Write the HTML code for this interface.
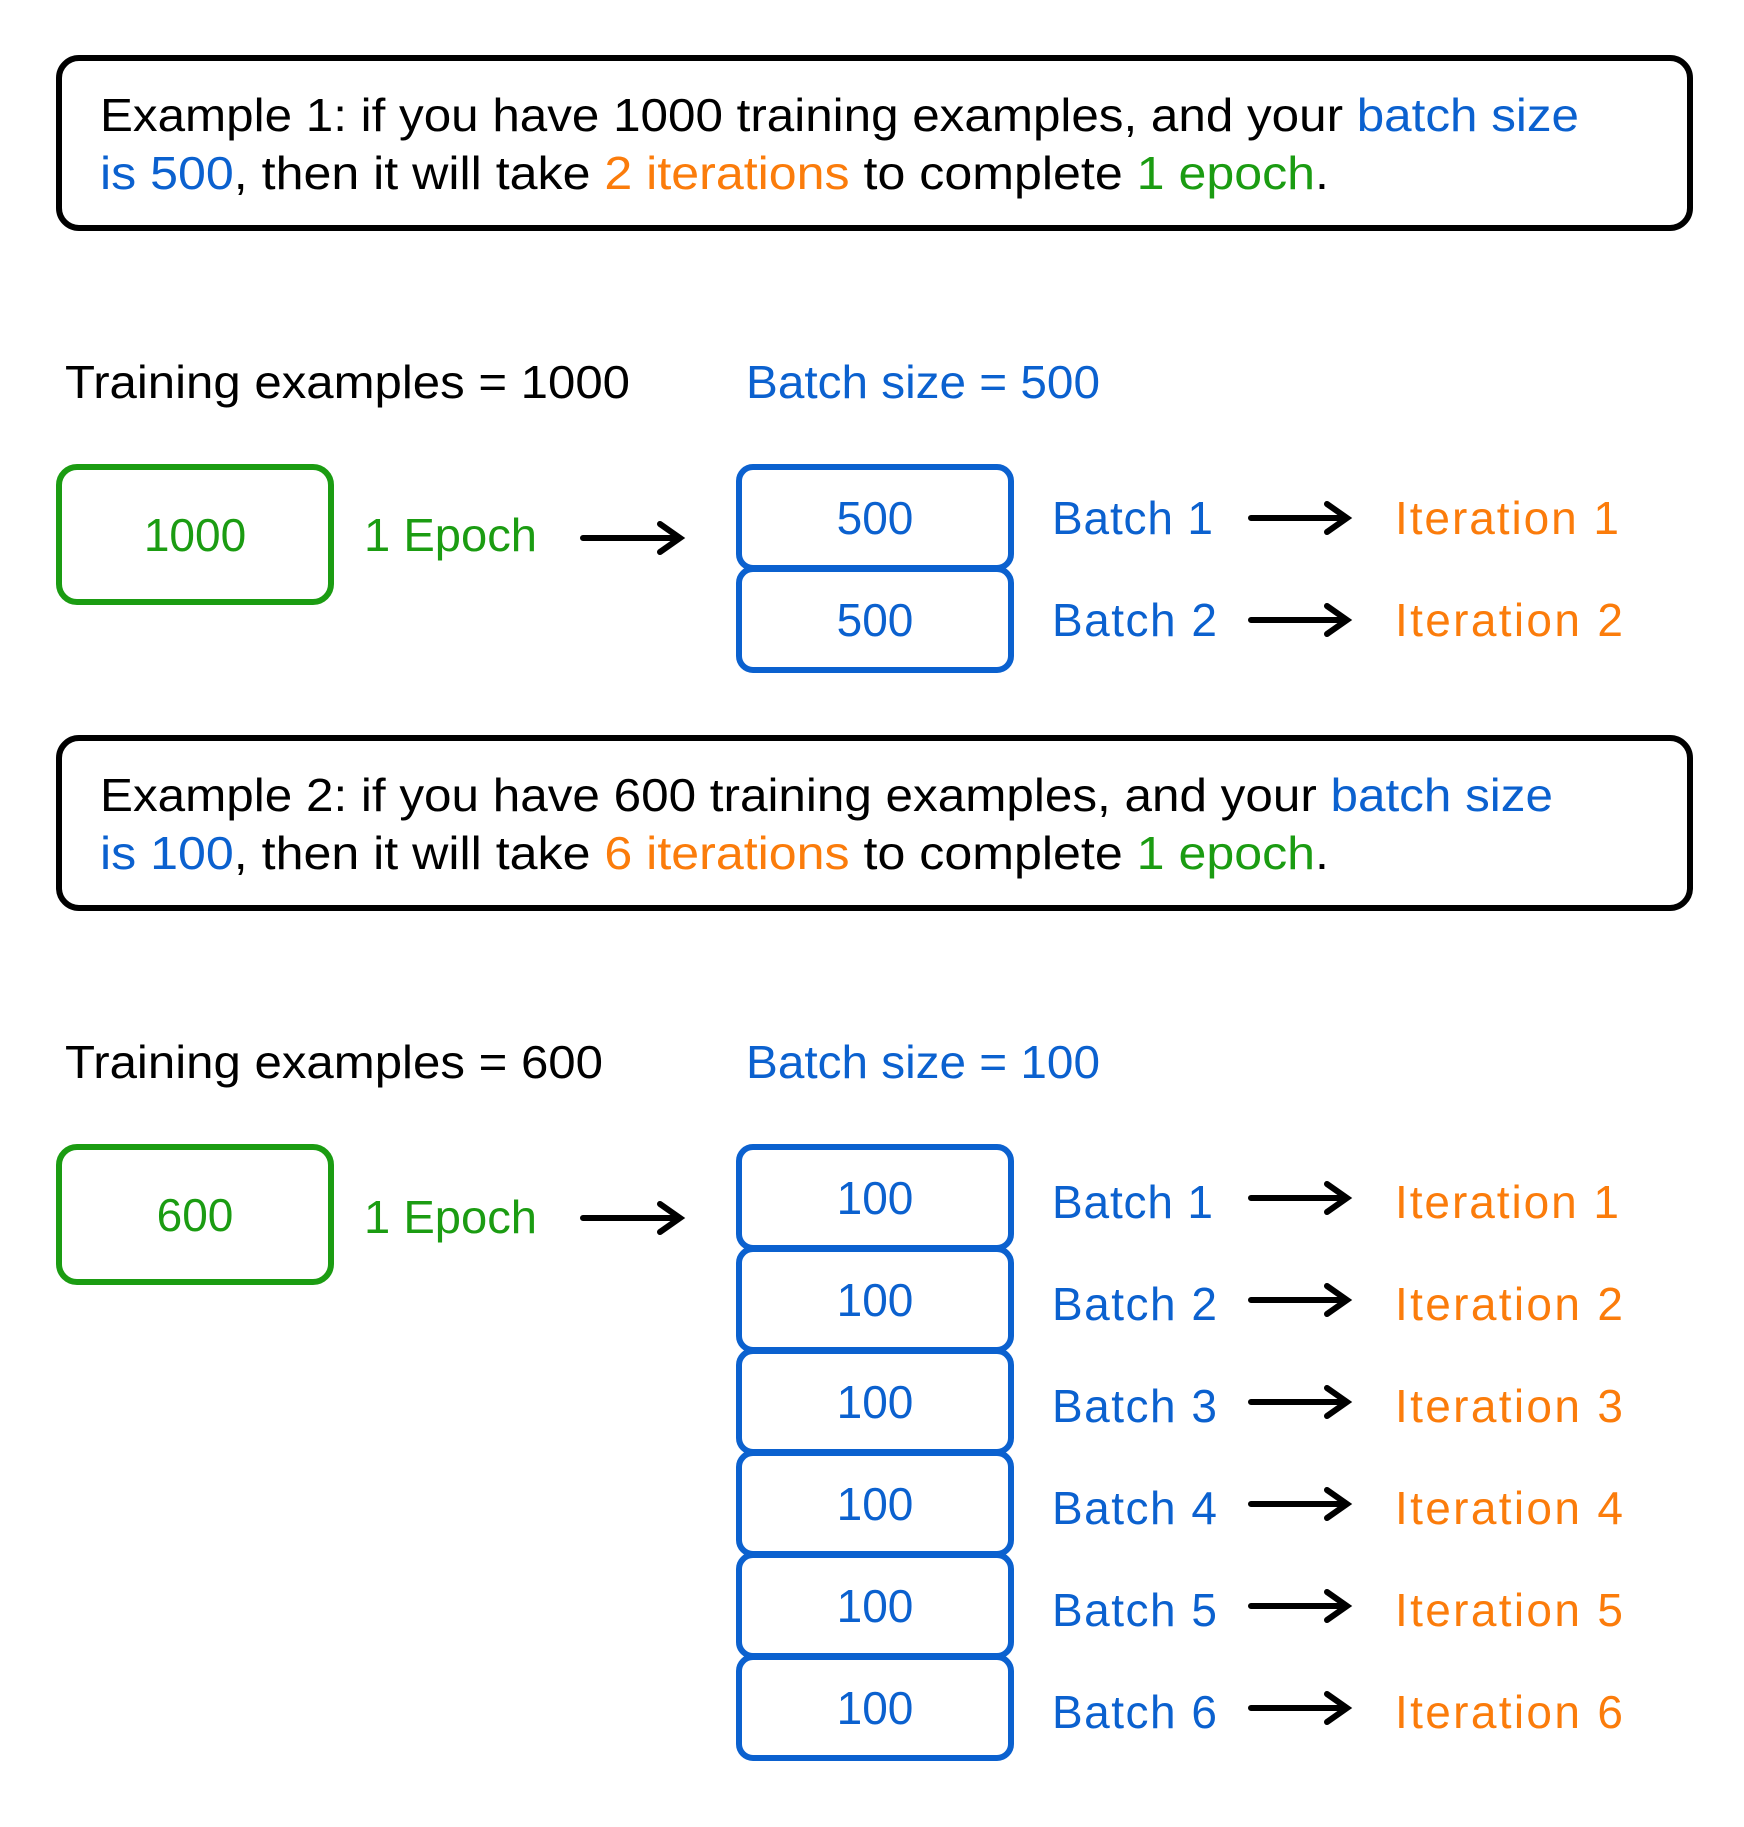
<!DOCTYPE html>
<html><head><meta charset="utf-8"><style>
body{margin:0;background:#fff}
svg text{font-family:"Liberation Sans",sans-serif;font-size:46px}
.b{fill:#0b61cf}.o{fill:#fb7c0b}.g{fill:#1b9c12}.k{fill:#000}
</style></head><body>
<svg width="1744" height="1822" viewBox="0 0 1744 1822" xmlns="http://www.w3.org/2000/svg">
<g fill="none" stroke-width="6">
<rect x="59" y="58" width="1631" height="170" rx="20" stroke="#000"/>
<rect x="59" y="738" width="1631" height="170" rx="20" stroke="#000"/>
<rect x="59" y="467" width="272" height="135" rx="18" stroke="#1b9c12"/>
<rect x="59" y="1147" width="272" height="135" rx="18" stroke="#1b9c12"/>
<rect x="739" y="467" width="272" height="101" rx="14" stroke="#0b61cf"/>
<rect x="739" y="569" width="272" height="101" rx="14" stroke="#0b61cf"/>
<rect x="739" y="1147" width="272" height="101" rx="14" stroke="#0b61cf"/>
<rect x="739" y="1249" width="272" height="101" rx="14" stroke="#0b61cf"/>
<rect x="739" y="1351" width="272" height="101" rx="14" stroke="#0b61cf"/>
<rect x="739" y="1453" width="272" height="101" rx="14" stroke="#0b61cf"/>
<rect x="739" y="1555" width="272" height="101" rx="14" stroke="#0b61cf"/>
<rect x="739" y="1657" width="272" height="101" rx="14" stroke="#0b61cf"/>
</g>
<g stroke="#000" stroke-width="6" fill="none" stroke-linecap="round">
<path d="M583 538H678M660 524L680 538L660 552"/>
<path d="M583 1218H678M660 1204L680 1218L660 1232"/>
<path d="M1251 518H1345M1327 504L1347 518L1327 532"/>
<path d="M1251 620H1345M1327 606L1347 620L1327 634"/>
<path d="M1251 1198H1345M1327 1184L1347 1198L1327 1212"/>
<path d="M1251 1300H1345M1327 1286L1347 1300L1327 1314"/>
<path d="M1251 1402H1345M1327 1388L1347 1402L1327 1416"/>
<path d="M1251 1504H1345M1327 1490L1347 1504L1327 1518"/>
<path d="M1251 1606H1345M1327 1592L1347 1606L1327 1620"/>
<path d="M1251 1708H1345M1327 1694L1347 1708L1327 1722"/>
</g>
<text x="100" y="131" class="k" textLength="1479" lengthAdjust="spacingAndGlyphs">Example 1: if you have 1000 training examples, and your <tspan class="b">batch size</tspan></text>
<text x="100" y="189" class="k" textLength="1229" lengthAdjust="spacingAndGlyphs"><tspan class="b">is 500</tspan>, then it will take <tspan class="o">2 iterations</tspan> to complete <tspan class="g">1 epoch</tspan>.</text>
<text x="100" y="811" class="k" textLength="1453" lengthAdjust="spacingAndGlyphs">Example 2: if you have 600 training examples, and your <tspan class="b">batch size</tspan></text>
<text x="100" y="869" class="k" textLength="1229" lengthAdjust="spacingAndGlyphs"><tspan class="b">is 100</tspan>, then it will take <tspan class="o">6 iterations</tspan> to complete <tspan class="g">1 epoch</tspan>.</text>
<text x="65" y="398" class="k" textLength="565" lengthAdjust="spacingAndGlyphs">Training examples = 1000</text>
<text x="746" y="398" class="b" textLength="354" lengthAdjust="spacingAndGlyphs">Batch size = 500</text>
<text x="65" y="1078" class="k" textLength="538" lengthAdjust="spacingAndGlyphs">Training examples = 600</text>
<text x="746" y="1078" class="b" textLength="354" lengthAdjust="spacingAndGlyphs">Batch size = 100</text>
<g text-anchor="middle">
<text x="195" y="551" class="g">1000</text>
<text x="195" y="1231" class="g">600</text>
<text x="875" y="534" class="b">500</text>
<text x="875" y="636" class="b">500</text>
<text x="875" y="1214" class="b">100</text>
<text x="875" y="1316" class="b">100</text>
<text x="875" y="1418" class="b">100</text>
<text x="875" y="1520" class="b">100</text>
<text x="875" y="1622" class="b">100</text>
<text x="875" y="1724" class="b">100</text>
</g>
<text x="364" y="551" class="g" textLength="173" lengthAdjust="spacingAndGlyphs">1 Epoch</text>
<text x="364" y="1233" class="g" textLength="173" lengthAdjust="spacingAndGlyphs">1 Epoch</text>
<g lengthAdjust="spacingAndGlyphs">
<text x="1052" y="534" class="b" textLength="161">Batch 1</text><text x="1395" y="534" class="o" textLength="224">Iteration 1</text>
<text x="1052" y="636" class="b" textLength="165">Batch 2</text><text x="1395" y="636" class="o" textLength="228">Iteration 2</text>
<text x="1052" y="1218" class="b" textLength="161">Batch 1</text><text x="1395" y="1218" class="o" textLength="224">Iteration 1</text>
<text x="1052" y="1320" class="b" textLength="165">Batch 2</text><text x="1395" y="1320" class="o" textLength="228">Iteration 2</text>
<text x="1052" y="1422" class="b" textLength="165">Batch 3</text><text x="1395" y="1422" class="o" textLength="228">Iteration 3</text>
<text x="1052" y="1524" class="b" textLength="165">Batch 4</text><text x="1395" y="1524" class="o" textLength="228">Iteration 4</text>
<text x="1052" y="1626" class="b" textLength="165">Batch 5</text><text x="1395" y="1626" class="o" textLength="228">Iteration 5</text>
<text x="1052" y="1728" class="b" textLength="165">Batch 6</text><text x="1395" y="1728" class="o" textLength="228">Iteration 6</text>
</g>
</svg>
</body></html>
